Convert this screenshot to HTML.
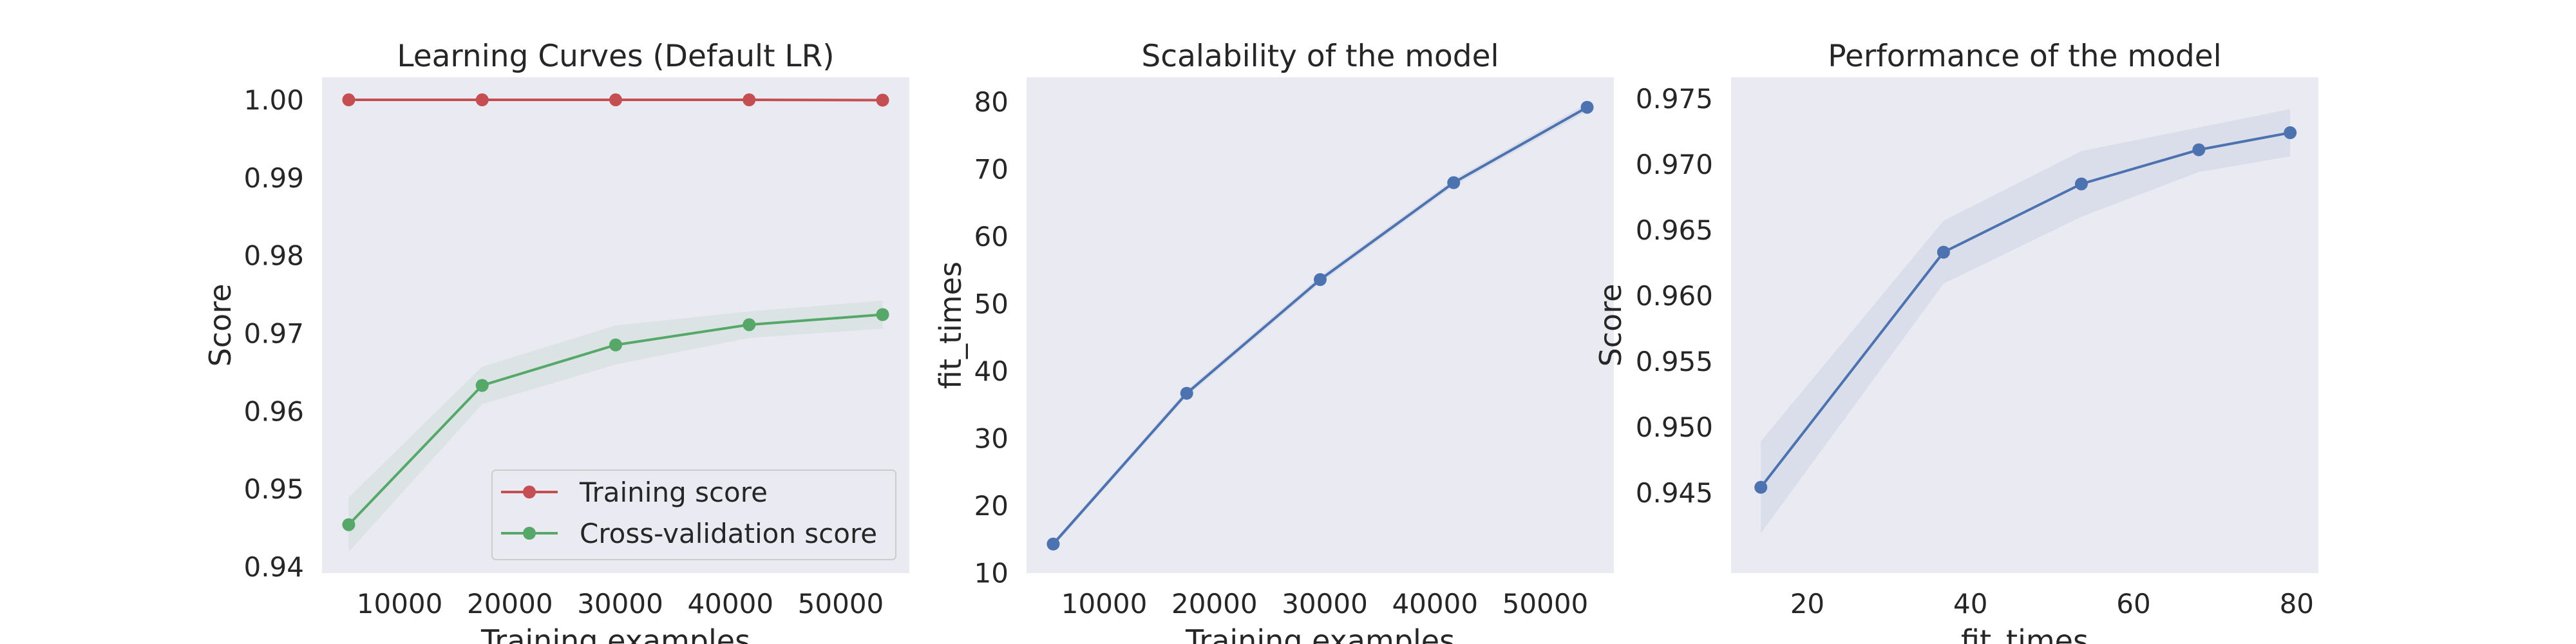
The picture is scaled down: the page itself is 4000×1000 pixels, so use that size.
<!DOCTYPE html>
<html><head><meta charset="utf-8"><style>
html,body{margin:0;padding:0;background:#fff}
svg{display:block}
text{font-family:"DejaVu Sans","Liberation Sans",sans-serif;fill:#262626}
</style></head><body>
<svg id="fig" width="4000" height="1000" viewBox="0 0 4000 1000" xmlns="http://www.w3.org/2000/svg"></svg>
<script>
const trainSizes = [5380, 17485, 29590, 41695, 53800];
const trainMean = [1.0, 1.0, 1.0, 1.0, 0.99996];
const trainStd = [0, 0, 0, 0, 0.00005];
const cvMean = [0.9454, 0.9633, 0.9685, 0.9711, 0.9724];
const cvStd = [0.0035, 0.0024, 0.0025, 0.0017, 0.0018];
const fitMean = [14.3, 36.7, 53.6, 68.0, 79.2];
const fitStd = [0.4, 0.5, 0.5, 0.5, 0.6];
const sizeTicks = [10000, 20000, 30000, 40000, 50000];
const scoreTicks1 = [0.94, 0.95, 0.96, 0.97, 0.98, 0.99, 1.00];
const fitTicks = [10, 20, 30, 40, 50, 60, 70, 80];
const fitXTicks = [20, 40, 60, 80];
const scoreTicks3 = [0.945, 0.950, 0.955, 0.960, 0.965, 0.970, 0.975];

const NS = "http://www.w3.org/2000/svg";
const svg = document.getElementById('fig');
function mk(tag, attrs, parent) {
  const e = document.createElementNS(NS, tag);
  for (const k in attrs) e.setAttribute(k, attrs[k]);
  (parent || svg).appendChild(e);
  return e;
}
function scale(d0, d1, r0, r1) { return v => r0 + (v - d0) / (d1 - d0) * (r1 - r0); }

const TOP = 120, BOT = 890;
function panel(cfg) {
  const g = mk('g', {});
  
  
  const bg = mk('rect', {x: cfg.x0, y: TOP, width: cfg.x1 - cfg.x0, height: BOT - TOP, fill: '#eaeaf2'}, g);
  
  
  const sx = scale(cfg.xlim[0], cfg.xlim[1], cfg.x0, cfg.x1);
  const sy = scale(cfg.ylim[0], cfg.ylim[1], BOT, TOP);
  cfg.xticks.forEach(v => {
    const t = mk('text', {x: sx(v), y: 952, 'font-size': 42, 'text-anchor': 'middle'}, g);
    t.textContent = cfg.xfmt(v);
    
    
  });
  cfg.yticks.forEach(v => {
    const t = mk('text', {x: cfg.x0 - 28, y: sy(v) + 15, 'font-size': 42, 'text-anchor': 'end'}, g);
    t.textContent = cfg.yfmt(v);
    
    
  });
  const title = mk('text', {x: (cfg.x0 + cfg.x1) / 2, y: 103, 'font-size': 47, 'text-anchor': 'middle'}, g);
  title.textContent = cfg.title;
  
  
  const xl = mk('text', {x: (cfg.x0 + cfg.x1) / 2, y: 1011, 'font-size': 46, 'text-anchor': 'middle'}, g);
  xl.textContent = cfg.xlabel;
  
  
  const yl = mk('text', {x: cfg.ylx, y: (TOP + BOT) / 2, 'font-size': 46, 'text-anchor': 'middle', transform: `rotate(-90 ${cfg.ylx} ${(TOP + BOT) / 2})`}, g);
  yl.textContent = cfg.ylabel;
  
  
  cfg.series.forEach(s => {
    const up = s.xs.map((x, i) => `${sx(x)},${sy(s.mean[i] + s.std[i])}`);
    const lo = s.xs.map((x, i) => `${sx(x)},${sy(s.mean[i] - s.std[i])}`).reverse();
    const band = mk('polygon', {points: up.concat(lo).join(' '), fill: s.color, 'fill-opacity': 0.1}, g);
    
    
    const line = mk('polyline', {points: s.xs.map((x, i) => `${sx(x)},${sy(s.mean[i])}`).join(' '), fill: 'none', stroke: s.color, 'stroke-width': 4}, g);
    
    
    s.xs.forEach((x, i) => {
      const c = mk('circle', {cx: sx(x), cy: sy(s.mean[i]), r: 10, fill: s.color}, g);
      
      
    });
  });
}
const RED = '#c44e52', GREEN = '#55a868', BLUE = '#4c72b0';
const intFmt = v => String(v);
panel({name: 'learning-curves-panel', x0: 500, x1: 1412, xlim: [2959, 56221], ylim: [0.93917, 1.0029],
  xticks: sizeTicks, yticks: scoreTicks1, xfmt: intFmt, yfmt: v => v.toFixed(2),
  title: 'Learning Curves (Default LR)', xlabel: 'Training examples', ylabel: 'Score', ylx: 358,
  series: [{name: 'training-score', xs: trainSizes, mean: trainMean, std: trainStd, color: RED},
           {name: 'cv-score', xs: trainSizes, mean: cvMean, std: cvStd, color: GREEN}]});
panel({name: 'scalability-panel', x0: 1594, x1: 2506, xlim: [2959, 56221], ylim: [9.97, 83.66],
  xticks: sizeTicks, yticks: fitTicks, xfmt: intFmt, yfmt: intFmt,
  title: 'Scalability of the model', xlabel: 'Training examples', ylabel: 'fit_times', ylx: 1492,
  series: [{name: 'fit-time', xs: trainSizes, mean: fitMean, std: fitStd, color: BLUE}]});
panel({name: 'performance-panel', x0: 2688, x1: 3600, xlim: [10.65, 82.66], ylim: [0.93886, 0.97662],
  xticks: fitXTicks, yticks: scoreTicks3, xfmt: intFmt, yfmt: v => v.toFixed(3),
  title: 'Performance of the model', xlabel: 'fit_times', ylabel: 'Score', ylx: 2517,
  series: [{name: 'performance', xs: fitMean, mean: cvMean, std: cvStd, color: BLUE}]});

// legend
const lg = mk('g', {});


mk('rect', {x: 764, y: 730, width: 627, height: 139, rx: 6, fill: '#eaeaf2', 'fill-opacity': 0.8, stroke: '#cccccc', 'stroke-width': 2}, lg);
[['Training score', RED, 764], ['Cross-validation score', GREEN, 828]].forEach(([lab, col, y]) => {
  const e = mk('g', {}, lg);
  
  
  mk('line', {x1: 778, x2: 866, y1: y, y2: y, stroke: col, 'stroke-width': 4}, e);
  mk('circle', {cx: 822, cy: y, r: 10, fill: col}, e);
  const t = mk('text', {x: 900, y: y + 15, 'font-size': 42}, e);
  t.textContent = lab;
});
</script>
</body></html>
